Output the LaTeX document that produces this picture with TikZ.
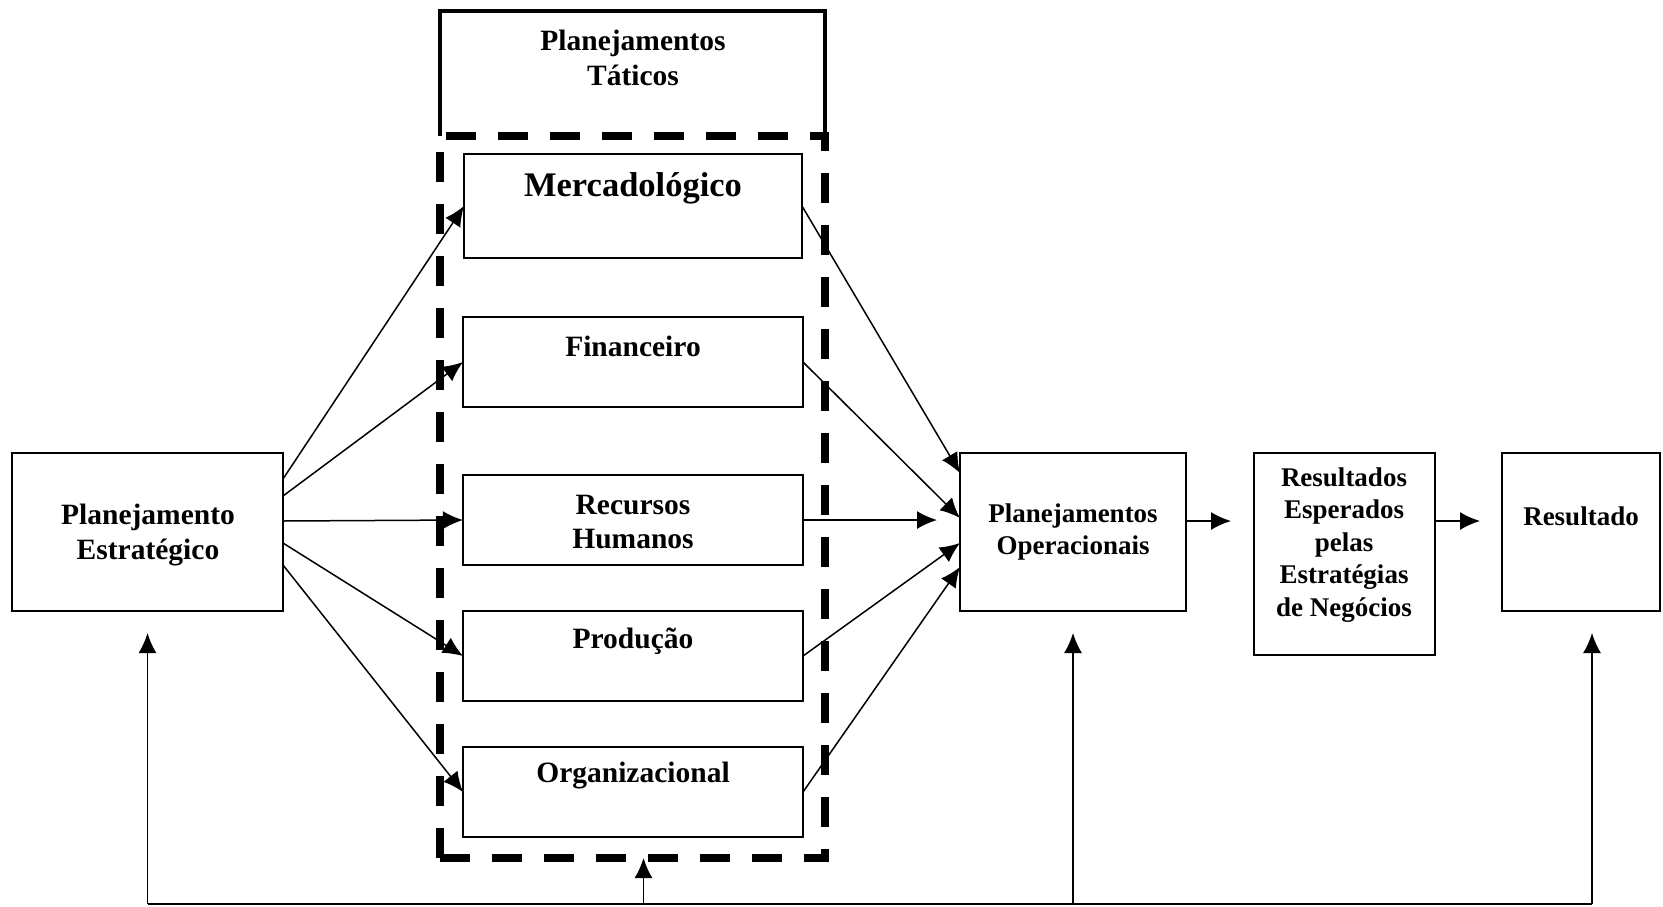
\documentclass[tikz,border=0pt]{standalone}
\usepackage{fontspec}
\setmainfont{Liberation Serif}
\usetikzlibrary{arrows.meta,calc}
\begin{document}
\begin{tikzpicture}[x=1pt,y=-1pt,
  box/.style={draw, line width=1.6pt, anchor=north west, inner sep=0pt, outer sep=0pt},
  txt/.style={font=\fontsize{29.5}{34.5}\selectfont\bfseries, align=center, inner sep=0pt},
  txtsm/.style={font=\fontsize{27}{32.5}\selectfont\bfseries, align=center, inner sep=0pt},
  txtbig/.style={font=\fontsize{34.5}{40}\selectfont\bfseries, align=center, inner sep=0pt},
  arr/.style={line width=1.5pt, -{Latex[length=20pt,width=18pt]}},
  link/.style={line width=1.5pt},
  tacframe/.style={line width=3.5pt},
  tacdash/.style={draw, line width=8pt, dash pattern=on 30pt off 22pt, anchor=north west, inner sep=0pt, outer sep=0pt}
]
% page area
\path[use as bounding box] (0,0) rectangle (1663,906);

% tactical group: solid title frame and dashed enclosure
\node[tacdash, minimum width=385pt, minimum height=722pt] (tac) at (440,136) {};
\draw[tacframe] (tac.north west) -- ++(0,-125) -| (tac.north east);
\node[txt] (tactitle) at (633,58) {Planejamentos\\Táticos};

% main boxes
\node[box, minimum width=271pt, minimum height=158pt] (pe) at (12,453) {};
\node[txt] (pet) at (148,535) {Planejamento\\Estratégico};

\node[box, minimum width=338pt, minimum height=104pt] (merc) at (464,154) {};
\node[txtbig] (merct) at (633,188) {Mercadológico};

\node[box, minimum width=340pt, minimum height=90pt] (fin) at (463,317) {};
\node[txt] (fint) at (633,346) {Financeiro};

\node[box, minimum width=340pt, minimum height=90pt] (rh) at (463,475) {};
\node[txt] (rht) at (633,522) {Recursos\\Humanos};

\node[box, minimum width=340pt, minimum height=90pt] (prod) at (463,611) {};
\node[txt] (prodt) at (633,641) {Produção};

\node[box, minimum width=340pt, minimum height=90pt] (org) at (463,747) {};
\node[txt] (orgt) at (633,776) {Organizacional};

\node[box, minimum width=226pt, minimum height=158pt] (po) at (960,453) {};
\node[txtsm] (pot) at (1073,532) {Planejamentos\\Operacionais};

\node[box, minimum width=181pt, minimum height=202pt] (re) at (1254,453) {};
\node[txtsm] (ret) at (1344,545) {Resultados\\Esperados\\pelas\\Estratégias\\de Negócios};

\node[box, minimum width=158pt, minimum height=158pt] (res) at (1502,453) {};
\node[txtsm] (rest) at (1581,516) {Resultado};

% strategic plan to tactical plans
\draw[arr] ($(pe.north east)+(0,26)$) -- (merc.west);
\draw[arr] ($(pe.north east)+(0,43)$) -- (fin.west);
\draw[arr] ($(pe.north east)+(0,68)$) -- (rh.west);
\draw[arr] ($(pe.north east)+(0,90)$) -- (prod.west);
\draw[arr] ($(pe.north east)+(0,112)$) -- (org.west);

% tactical plans to operational plans
\draw[arr] (merc.east) -- ($(po.north west)+(0,20)$);
\draw[arr] (fin.east) -- ($(po.north west)+(0,65)$);
\draw[arr, shorten >=23pt] (rh.east) -- (rh.east -| po.west);
\draw[arr] (prod.east) -- ($(po.north west)+(0,90)$);
\draw[arr] (org.east) -- ($(po.north west)+(0,114)$);

% operational plans to results
\draw[arr, shorten >=23pt] ($(po.north east)+(0,68)$) -- ($(re.north west)+(0,68)$);
\draw[arr, shorten >=22pt] ($(re.north east)+(0,68)$) -- ($(res.north west)+(0,68)$);

% feedback line along the bottom
\coordinate (fb) at (0,904);
\coordinate (tacin) at ($(tac.south)+(11,0)$);
\coordinate (resin) at ($(res.south)+(11,0)$);
\draw[link] (pe.south |- fb) -- (resin |- fb);
\draw[arr, shorten >=22pt] (pe.south |- fb) -- (pe.south);
\draw[arr] (tacin |- fb) -- (tacin);
\draw[arr, shorten >=22pt] (po.south |- fb) -- (po.south);
\draw[arr, shorten >=22pt] (resin |- fb) -- (resin);
\end{tikzpicture}
\end{document}
